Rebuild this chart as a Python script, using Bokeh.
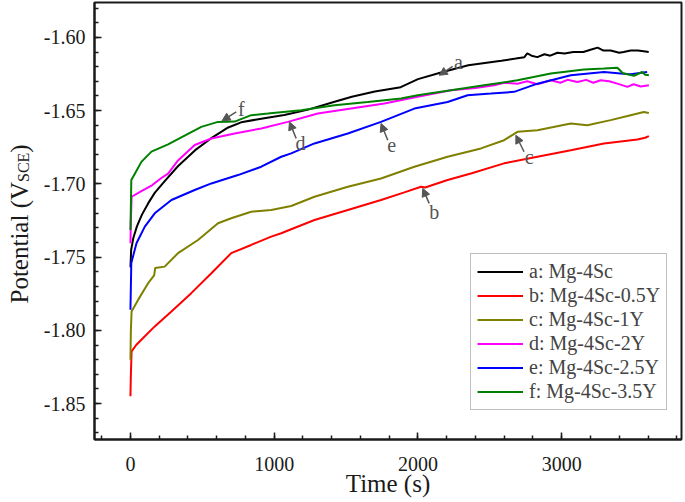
import math
from bokeh.plotting import figure
from bokeh.layouts import row
from bokeh.models import (FixedTicker, PrintfTickFormatter, Legend, LegendItem,
                          Arrow, NormalHead, Label, Range1d)
from bokeh.core.properties import value
from bokeh.embed import file_html
from bokeh.resources import INLINE

# ---------------- data ----------------
t_a = [0, 5, 20, 45, 80, 125, 170, 240, 330, 450, 560, 680, 770, 910, 1070, 1230, 1420,
       1540, 1700, 1880, 2000, 2160, 2350, 2580, 2680, 2740, 2760, 2790, 2830, 2880, 2920,
       2970, 3020, 3080, 3150, 3200, 3250, 3290, 3340, 3400, 3430, 3480, 3530, 3570, 3605]
y_a = [-1.757, -1.745, -1.737, -1.729, -1.721, -1.713, -1.706, -1.698, -1.688, -1.677,
       -1.669, -1.6615, -1.658, -1.6555, -1.653, -1.6495, -1.644, -1.6405, -1.637, -1.634,
       -1.6285, -1.624, -1.619, -1.616, -1.6145, -1.6135, -1.611, -1.6125, -1.6135, -1.6115,
       -1.6125, -1.6105, -1.611, -1.610, -1.610, -1.6085, -1.607, -1.609, -1.609, -1.6105,
       -1.610, -1.609, -1.609, -1.6095, -1.610]

t_b = [0, 3, 8, 40, 76, 169, 285, 423, 563, 701, 840, 979, 1049, 1118, 1280, 1512, 1743,
       1900, 2021, 2050, 2206, 2368, 2599, 2831, 3063, 3294, 3526, 3580, 3606]
y_b = [-1.845, -1.830, -1.8144, -1.810, -1.8064, -1.7973, -1.7871, -1.7746, -1.761, -1.7473,
       -1.7417, -1.736, -1.7337, -1.731, -1.7247, -1.7178, -1.711, -1.706, -1.702, -1.7025,
       -1.6974, -1.6929, -1.686, -1.6815, -1.677, -1.6724, -1.6697, -1.6685, -1.6674]

t_c = [0, 3, 8, 53, 123, 165, 172, 238, 331, 470, 609, 701, 840, 979, 1118, 1280, 1512,
       1743, 1975, 2206, 2438, 2599, 2692, 2831, 3063, 3178, 3340, 3479, 3571, 3606]
y_c = [-1.820, -1.800, -1.7871, -1.7792, -1.7678, -1.7625, -1.7575, -1.7565, -1.7473,
       -1.7383, -1.7269, -1.7235, -1.719, -1.7178, -1.7151, -1.7088, -1.702, -1.6963,
       -1.6883, -1.6815, -1.6758, -1.6702, -1.6645, -1.6634, -1.6588, -1.660, -1.6565,
       -1.6531, -1.6509, -1.6516]

t_d = [0, 3, 8, 76, 150, 215, 262, 331, 447, 563, 725, 910, 1095, 1303, 1535, 1766, 1998,
       2229, 2400, 2530, 2600, 2692, 2760, 2830, 2924, 2990, 3040, 3109, 3170, 3220, 3271,
       3330, 3387, 3456, 3500, 3550, 3606]
y_d = [-1.7405, -1.725, -1.7088, -1.705, -1.701, -1.696, -1.693, -1.684, -1.6735, -1.669,
       -1.6656, -1.6622, -1.6577, -1.652, -1.6486, -1.6452, -1.6406, -1.6361, -1.6345,
       -1.6327, -1.631, -1.6316, -1.630, -1.632, -1.6293, -1.631, -1.629, -1.6304, -1.629,
       -1.631, -1.6293, -1.630, -1.6316, -1.6338, -1.632, -1.6335, -1.6327]

t_e = [0, 3, 6, 42, 100, 169, 285, 447, 563, 748, 910, 1049, 1118, 1280, 1512, 1743, 1975,
       2206, 2345, 2507, 2669, 2831, 3063, 3294, 3410, 3479, 3594]
y_e = [-1.786, -1.770, -1.754, -1.7405, -1.7292, -1.7201, -1.711, -1.7042, -1.6997, -1.694,
       -1.6883, -1.6815, -1.6792, -1.6724, -1.6656, -1.6577, -1.6486, -1.6441, -1.6395,
       -1.6384, -1.6372, -1.6316, -1.6259, -1.6236, -1.6247, -1.6252, -1.6236]

t_f = [0, 3, 6, 19, 76, 146, 262, 377, 493, 609, 725, 840, 956, 1188, 1419, 1651, 1882,
       1998, 2229, 2460, 2692, 2924, 3155, 3294, 3387, 3420, 3433, 3502, 3540, 3560, 3580, 3606]
y_f = [-1.7315, -1.715, -1.6974, -1.6952, -1.685, -1.678, -1.673, -1.667, -1.6611, -1.6577,
       -1.6575, -1.6531, -1.652, -1.6497, -1.6463, -1.6441, -1.6418, -1.6395, -1.6361,
       -1.6327, -1.6293, -1.6247, -1.622, -1.6213, -1.6207, -1.624, -1.6247, -1.6262,
       -1.6245, -1.6236, -1.6255, -1.6259]

series_labels = ["a: Mg-4Sc", "b: Mg-4Sc-0.5Y", "c: Mg-4Sc-1Y",
                 "d: Mg-4Sc-2Y", "e: Mg-4Sc-2.5Y", "f: Mg-4Sc-3.5Y"]
series_colors = ["#000000", "#ff0000", "#808000", "#ff00ff", "#0000ff", "#008000"]

x_major = [0, 1000, 2000, 3000]
x_minor = list(range(-200, 3801, 200))
y_major = [-1.85, -1.80, -1.75, -1.70, -1.65, -1.60]
y_minor = [round(-1.87 + 0.01 * i, 2) for i in range(30)]

# annotation letters: (letter, tip_t, tip_y, tail_t, tail_y, text_t, text_y)
annotations = [
    ("a", 2148, -1.6259, 2241, -1.6198, 2282, -1.6168),
    ("b", 2033, -1.7031, 2078, -1.7133, 2113, -1.7190),
    ("c", 2681, -1.6668, 2738, -1.6781, 2773, -1.6815),
    ("d", 1106, -1.6577, 1153, -1.6690, 1183, -1.6724),
    ("e", 1743, -1.6588, 1790, -1.6702, 1817, -1.6736),
    ("f", 637, -1.6570, 736, -1.6509, 771, -1.6486),
]

FONT = "Liberation Serif"
INK = "#1a1a1a"
W_LBL = 40
W, H = 685, 502
TOP, BOTTOM = 2, 63

# ---------------- main plot ----------------
p = figure(width=W - W_LBL, height=H, output_backend="svg", toolbar_location=None,
           x_range=Range1d(-250, 3833), y_range=Range1d(-1.8745, -1.5762),
           min_border_left=53, min_border_right=4, min_border_top=TOP, min_border_bottom=BOTTOM)
p.background_fill_color = "white"
p.border_fill_color = "white"
p.xgrid.visible = False
p.ygrid.visible = False
p.outline_line_color = INK
p.outline_line_width = 2

for ax in (p.xaxis[0], p.yaxis[0]):
    ax.axis_line_color = INK
    ax.axis_line_width = 2
    ax.major_tick_in = 7
    ax.major_tick_out = 0
    ax.minor_tick_in = 4
    ax.minor_tick_out = 0
    ax.major_tick_line_color = INK
    ax.minor_tick_line_color = INK
    ax.major_tick_line_width = 1.5
    ax.minor_tick_line_width = 1.5
    ax.major_label_text_font = FONT
    ax.major_label_text_font_size = "20px"
    ax.major_label_text_color = INK

p.xaxis.ticker = FixedTicker(ticks=x_major, minor_ticks=x_minor)
p.yaxis.ticker = FixedTicker(ticks=y_major, minor_ticks=y_minor)
p.yaxis.formatter = PrintfTickFormatter(format="%.2f")
p.xaxis.major_label_standoff = 17
p.yaxis.major_label_standoff = 9

p.xaxis.axis_label = "Time (s)"
p.xaxis.axis_label_text_font = FONT
p.xaxis.axis_label_text_font_size = "25px"
p.xaxis.axis_label_text_font_style = "normal"
p.xaxis.axis_label_text_color = INK
p.xaxis.axis_label_standoff = -4

ts = [t_a, t_b, t_c, t_d, t_e, t_f]
ys = [y_a, y_b, y_c, y_d, y_e, y_f]
items = []
for t, y, lab, col in zip(ts, ys, series_labels, series_colors):
    r = p.line(t, y, line_color=col, line_width=2)
    items.append(LegendItem(label=lab, renderers=[r]))

legend = Legend(items=items, location=(376, 29), margin=0, padding=6, spacing=1,
                label_text_font=FONT, label_text_font_size="20px",
                label_height=23, glyph_height=23, glyph_width=46, label_standoff=6,
                border_line_color="#808080", border_line_width=1,
                background_fill_color="white", background_fill_alpha=1.0)
p.add_layout(legend, "center")

for letter, tx, ty, sx, sy, lx, ly in annotations:
    p.add_layout(Arrow(end=NormalHead(size=8, fill_color="#555555", line_color="#555555"),
                       x_start=sx, y_start=sy, x_end=tx, y_end=ty,
                       line_color="#555555", line_width=1.5))
    p.add_layout(Label(x=lx, y=ly, text=letter, text_font=FONT, text_font_size="20px",
                       text_color="#555555", text_align="center", text_baseline="middle"))

# ---------------- y-axis title strip (window-pixel-like coordinates, y up) ----------------
q = figure(width=W_LBL, height=H, output_backend="svg", toolbar_location=None,
           x_range=Range1d(0, W_LBL), y_range=Range1d(BOTTOM, H - TOP),
           x_axis_type=None, y_axis_type=None,
           min_border_left=0, min_border_right=0, min_border_top=TOP, min_border_bottom=BOTTOM)
q.xgrid.visible = False
q.ygrid.visible = False
q.outline_line_color = None
q.background_fill_color = "white"
q.border_fill_color = "white"

y_start = 199
main_w = 4.861 * 25
sub_w = 1.834 * 16
base_x = 19
q.text(x=[base_x], y=[y_start], text=["Potential (V"], angle=math.pi / 2,
       text_font=value(FONT), text_font_size="25px", text_color=INK,
       text_align="left", text_baseline="alphabetic")
q.text(x=[base_x + 4], y=[y_start + main_w], text=["SCE"], angle=math.pi / 2,
       text_font=value(FONT), text_font_size="16px", text_color=INK,
       text_align="left", text_baseline="alphabetic")
q.text(x=[base_x], y=[y_start + main_w + sub_w], text=[")"], angle=math.pi / 2,
       text_font=value(FONT), text_font_size="25px", text_color=INK,
       text_align="left", text_baseline="alphabetic")

layout = row(q, p)
open("out.html", "w").write(file_html(layout, INLINE))
